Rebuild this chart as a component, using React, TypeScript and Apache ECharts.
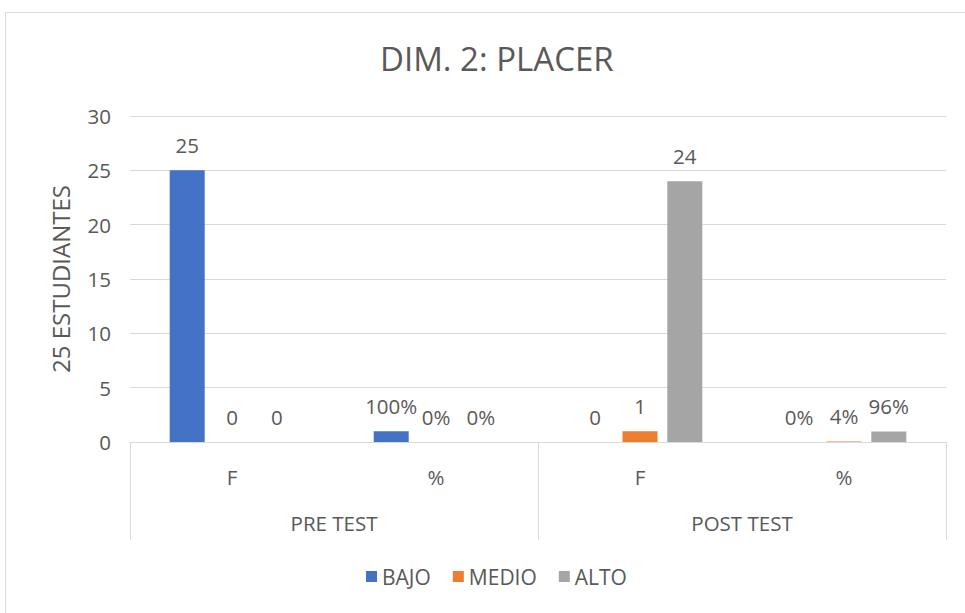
import React, { useEffect, useRef } from "react";
import * as echarts from "echarts";

const categories = ["F", "%", "F", "%"];
const groups = ["PRE TEST", "POST TEST"];
const bajo = [25, 1, 0, 0];
const medio = [0, 0, 1, 0.04];
const alto = [0, 0, 24, 0.96];
const yTicks = { min: 0, max: 30, interval: 5 };

const FONT = "'Open Sans', 'Noto Sans', sans-serif";
const TXT = "#595959";
const LINE = "#d9d9d9";

const labelFmt = (p: any) =>
  p.dataIndex % 2 === 1 ? Math.round(p.value * 100) + "%" : String(p.value);

export default function App() {
  const ref = useRef<HTMLDivElement>(null);
  useEffect(() => {
    const chart = echarts.init(ref.current!, undefined, { renderer: "svg" });
    const mk = (name: string, data: number[], color: string) => ({
      name,
      type: "bar",
      xAxisIndex: 0,
      data,
      barWidth: 35,
      barGap: "28%",
      itemStyle: { color },
      label: {
        show: true,
        position: "top",
        distance: 15,
        color: TXT,
        fontSize: 20.5,
        fontFamily: FONT,
        formatter: labelFmt,
      },
    });
    chart.setOption({
      animation: false,
      backgroundColor: "#fff",
      title: {
        text: "DIM. 2: PLACER",
        left: 375,
        top: 37,
        textStyle: { color: TXT, fontSize: 33, fontWeight: "normal", fontFamily: FONT },
      },
      graphic: [
        {
          type: "rect",
          shape: { x: 5.5, y: 12.5, width: 980, height: 620 },
          style: { fill: "none", stroke: LINE, lineWidth: 1 },
          silent: true,
        },
      ],
      legend: {
        bottom: 21,
        left: 361,
        icon: "rect",
        itemWidth: 11,
        itemHeight: 11,
        itemGap: 22,
        textStyle: { color: TXT, fontSize: 21, fontFamily: FONT },
        data: ["BAJO", "MEDIO", "ALTO"],
      },
      grid: { left: 130, right: 19, top: 116, bottom: 171, containLabel: false },
      xAxis: [
        {
          type: "category",
          data: categories,
          position: "bottom",
          axisLine: { show: true, lineStyle: { color: LINE } },
          axisTick: { show: false },
          axisLabel: { color: TXT, fontSize: 20.5, fontFamily: FONT, margin: 24 },
        },
        {
          type: "category",
          data: groups,
          position: "bottom",
          axisLine: { show: false },
          axisTick: { show: true, length: 98, interval: 0, lineStyle: { color: LINE } },
          axisLabel: { color: TXT, fontSize: 20.5, fontFamily: FONT, margin: 70 },
          splitLine: { show: false },
        },
      ],
      yAxis: {
        type: "value",
        min: yTicks.min,
        max: yTicks.max,
        interval: yTicks.interval,
        name: "25 ESTUDIANTES",
        nameLocation: "middle",
        nameGap: 58,
        nameTextStyle: { color: TXT, fontSize: 24, fontFamily: FONT },
        axisLine: { show: false },
        axisTick: { show: false },
        axisLabel: { color: TXT, fontSize: 20.5, fontFamily: FONT, margin: 19 },
        splitLine: { lineStyle: { color: LINE } },
      },
      series: [mk("BAJO", bajo, "#4472C4"), mk("MEDIO", medio, "#ED7D31"), mk("ALTO", alto, "#A5A5A5")],
    });
    return () => chart.dispose();
  }, []);
  return (
    <div
      ref={ref}
      style={{ position: "fixed", left: 0, top: 0, width: 965, height: 613 }}
    />
  );
}
